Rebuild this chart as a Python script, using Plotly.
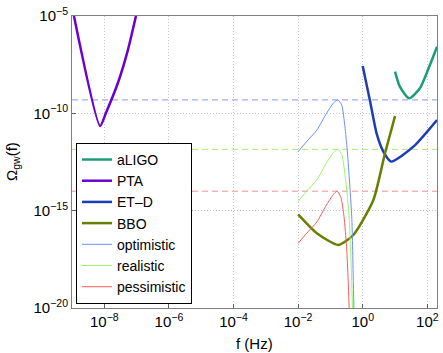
import plotly.graph_objects as go

# log10 values
pta_logf = [-8.94, -8.13, -7.95, -7.58, -7.27, -7.02]
pta_logo = [-5.0, -10.65, -9.98, -8.44, -6.75, -5.0]

aligo_logf = [1.0, 1.15, 1.44, 1.77, 2.08, 2.3]
aligo_logo = [-7.86, -8.63, -9.23, -8.71, -7.52, -6.58]

etd_logf = [0.0, 0.22, 0.43, 0.64, 0.88, 1.57, 2.3]
etd_logo = [-7.57, -9.31, -11.03, -11.97, -12.48, -11.71, -10.34]

bbo_logf = [-2.0, -1.42, -0.755, -0.29, 0.33, 0.69, 1.0]
bbo_logo = [-15.19, -16.16, -16.76, -16.25, -14.45, -12.05, -10.14]

opt_logf = [-2.0, -1.74, -1.42, -1.12, -0.91, -0.77, -0.65, -0.55, -0.48, -0.34, -0.29, -0.26]
opt_logo = [-11.97, -11.46, -10.86, -10.0, -9.48, -9.31, -9.57, -10.69, -11.88, -15.31, -18.71, -21.0]

real_logf = [-2.0, -1.74, -1.42, -1.12, -0.91, -0.77, -0.65, -0.53, -0.42, -0.34, -0.3]
real_logo = [-14.54, -14.0, -13.42, -12.54, -12.02, -11.85, -12.11, -13.4, -15.31, -18.71, -21.0]

pess_logf = [-2.0, -1.74, -1.42, -1.12, -0.91, -0.79, -0.67, -0.58, -0.5, -0.45, -0.4]
pess_logo = [-16.68, -16.17, -15.58, -14.7, -14.17, -14.0, -14.35, -15.3, -16.85, -18.56, -21.0]

# peak levels drawn as dashed horizontal lines
peak_levels = {"optimistic": -9.31, "realistic": -11.85, "pessimistic": -14.0}

x_tick_exp = [-8, -6, -4, -2, 0, 2]
y_tick_exp = [-20, -15, -10, -5]

colors = {
    "aLIGO": "#1b9e77",
    "PTA": "#6a00d4",
    "ET-D": "#1f3cb8",
    "BBO": "#668000",
    "optimistic": "#6f8cff",
    "realistic": "#9cf56a",
    "pessimistic": "#ff5a5a",
}
dash_colors = {"optimistic": "#8899ee", "realistic": "#a6ee70", "pessimistic": "#f39090"}


def p(vals):
    return [10 ** v for v in vals]


def pow_label(e):
    return "10<sup>" + str(e).replace("-", "\u2212") + "</sup>"


fig = go.Figure()

for name, lv in peak_levels.items():
    fig.add_hline(y=10 ** lv, line=dict(color=dash_colors[name], width=1, dash="6px,4px"), layer="below")

thick = [
    ("aLIGO", "aLIGO", aligo_logf, aligo_logo),
    ("PTA", "PTA", pta_logf, pta_logo),
    ("ET\u2013D", "ET-D", etd_logf, etd_logo),
    ("BBO", "BBO", bbo_logf, bbo_logo),
]
for name, key, lf, lo in thick:
    fig.add_trace(go.Scatter(
        x=p(lf), y=p(lo), mode="lines", name=name,
        line=dict(color=colors[key], width=2.5, shape="spline", smoothing=0.6),
    ))

thin = [
    ("optimistic", opt_logf, opt_logo),
    ("realistic", real_logf, real_logo),
    ("pessimistic", pess_logf, pess_logo),
]
for name, lf, lo in thin:
    fig.add_trace(go.Scatter(
        x=p(lf), y=p(lo), mode="lines", name=name,
        line=dict(color=colors[name], width=1, shape="spline", smoothing=0.6),
    ))

axis_common = dict(
    type="log",
    automargin=False,
    showgrid=True,
    gridcolor="#c4c4c4",
    griddash="1px,2px",
    gridwidth=1,
    showline=True,
    linecolor="#808080",
    linewidth=1,
    mirror=True,
    ticks="inside",
    ticklen=4,
    tickcolor="#606060",
    zeroline=False,
    tickfont=dict(size=15, color="black"),
)

fig.update_xaxes(
    range=[-9, 2.3],
    tickvals=[10 ** e for e in x_tick_exp],
    ticktext=[pow_label(e) for e in x_tick_exp],
    **axis_common,
)
fig.update_yaxes(
    range=[-20.0001, -4.9999],
    tickvals=[10 ** e for e in y_tick_exp],
    ticktext=[pow_label(e) for e in y_tick_exp],
    **axis_common,
)

fig.add_annotation(
    text="f (Hz)", xref="paper", yref="paper", x=0.5, y=0, yshift=-35,
    xanchor="center", yanchor="middle", showarrow=False, font=dict(size=15),
)
fig.add_annotation(
    text="\u03a9<sub>gw</sub>(f)", xref="paper", yref="paper", x=0, y=0.5, xshift=-60,
    xanchor="center", yanchor="middle", textangle=-90, showarrow=False, font=dict(size=15),
)

fig.update_layout(
    width=443,
    height=353,
    margin=dict(l=72, r=6, t=16, b=45),
    plot_bgcolor="white",
    paper_bgcolor="white",
    font=dict(family="Liberation Sans, Arial, sans-serif", color="black"),
    showlegend=True,
    legend=dict(
        x=0.011, y=0.014, xanchor="left", yanchor="bottom",
        bgcolor="white", bordercolor="black", borderwidth=1,
        font=dict(size=14), tracegroupgap=0, itemwidth=30,
    ),
)

# drop the default body margin so the figure sits at the window's corner
fig.write_html(
    "out.html",
    config={"displayModeBar": False},
    post_script="document.body.style.margin='0';",
)
